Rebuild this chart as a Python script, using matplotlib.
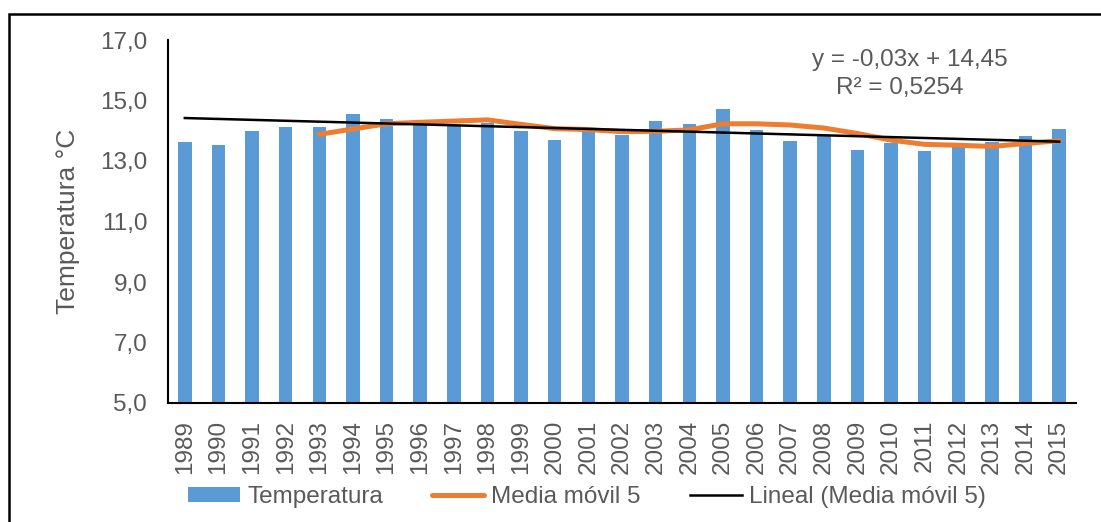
import matplotlib.pyplot as plt
from matplotlib.patches import Rectangle
import numpy as np

# data
years = list(range(1989, 2016))
temperatura = [13.64, 13.52, 13.99, 14.13, 14.11, 14.54, 14.40, 14.18, 14.20, 14.27,
               13.98, 13.70, 14.03, 13.86, 14.33, 14.23, 14.72, 14.02, 13.65, 13.81,
               13.37, 13.59, 13.32, 13.50, 13.63, 13.84, 14.07]
# moving average (period 5), starts at 1993
media_movil = [13.88, 14.06, 14.23, 14.28, 14.32, 14.36, 14.21, 14.07, 14.04, 13.97,
               13.98, 14.03, 14.23, 14.23, 14.19, 14.09, 13.91, 13.69, 13.55, 13.52,
               13.48, 13.58, 13.67]
trend_slope = -0.03
trend_intercept = 14.45
ecuacion = "y = -0,03x + 14,45"
r2_text = "R² = 0,5254"

plt.rcParams['font.family'] = ['Liberation Sans', 'DejaVu Sans']
gray = '#595959'
fs = 17.5

fig = plt.figure(figsize=(11.01, 5.22), dpi=100)
ax = fig.add_axes([168/1101, 1 - 403/522, (1076 - 168)/1101, (403 - 40)/522])

x = np.arange(len(years))
bars = ax.bar(x, temperatura, width=0.4, color='#5B9BD5', label='Temperatura', zorder=2)

x_ma = x[4:]
ma_line, = ax.plot(x_ma, media_movil, color='#ED7D31', lw=3.6, solid_capstyle='round',
                   label='Media móvil 5', zorder=3)

idx = np.arange(1, len(years) + 1)
tr_line, = ax.plot(x, trend_intercept + trend_slope * idx, color='black', lw=1.8,
                   label='Lineal (Media móvil 5)', zorder=4)

ax.set_ylim(5, 17)
ax.set_xlim(-0.5, len(years) - 0.5)
ax.set_yticks([5, 7, 9, 11, 13, 15, 17])
ax.set_yticklabels(['5,0', '7,0', '9,0', '11,0', '13,0', '15,0', '17,0'])
ax.set_xticks(x)
ax.set_xticklabels([str(y) for y in years], rotation=90)
ax.tick_params(axis='y', length=0, pad=15, labelsize=fs, labelcolor=gray)
ax.tick_params(axis='x', length=0, pad=12, labelsize=fs, labelcolor=gray)

for s in ['top', 'right']:
    ax.spines[s].set_visible(False)
ax.spines['left'].set_linewidth(1.5)
ax.spines['bottom'].set_linewidth(1.5)

ax.set_ylabel('Temperatura °C', fontsize=19, color=gray, labelpad=14)

ax.text(910 / 1101, 1 - 60 / 522, ecuacion, transform=fig.transFigure,
        ha='center', va='center', fontsize=fs, color=gray)
ax.text(900 / 1101, 1 - 88 / 522, r2_text, transform=fig.transFigure,
        ha='center', va='center', fontsize=fs, color=gray)

fig.legend([bars, ma_line, tr_line],
           ['Temperatura', 'Media móvil 5', 'Lineal (Media móvil 5)'],
           loc='center', bbox_to_anchor=(587 / 1101, 1 - 497 / 522), ncol=3,
           frameon=False, fontsize=fs, labelcolor=gray, handlelength=2.15,
           handletextpad=0.3, columnspacing=2.0, handleheight=0.6)

# outer chart frame (clipped at right and bottom in the original)
fig.patches.append(Rectangle((9 / 1101, -0.1), 1.2, 1 - 14 / 522 + 0.1,
                             transform=fig.transFigure, fill=False,
                             edgecolor='black', lw=1.8))

fig.savefig('out.png', dpi=100)
